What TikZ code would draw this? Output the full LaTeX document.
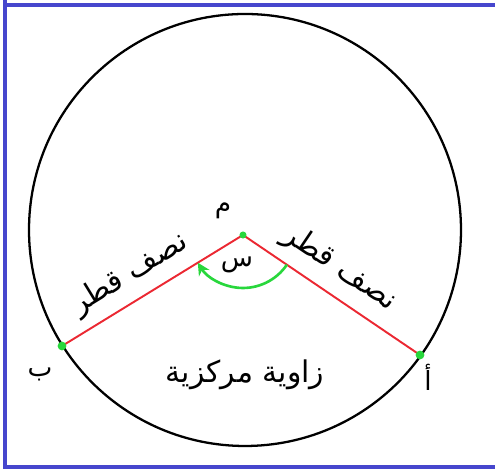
\documentclass[tikz,border=0pt]{standalone}
\usepackage{fontspec}
\usepackage{tikz}
\usetikzlibrary{arrows.meta,positioning,calc}
\TeXXeTstate=1
\newfontfamily\arabicfont[Script=Arabic]{DejaVu Sans}
\definecolor{frame_color}{RGB}{70,70,205}
\definecolor{radius_color}{RGB}{235,40,50}
\definecolor{angle_color}{RGB}{40,215,60}

\begin{document}
\begin{tikzpicture}[
                x=0.02cm, y=0.02cm,
                every node/.style={inner sep=0pt},
                label_ar/.style={font=\arabicfont\fontsize{17}{20}\selectfont, align=center},
                letter_ar/.style={font=\arabicfont\fontsize{15}{18}\selectfont},
                radius_line/.style={draw=radius_color, line width=1.1pt},
                dot/.style={circle, fill=angle_color, inner sep=0pt, minimum size=5pt},
                angle_arc/.style={angle_color, line width=1.5pt, -{Stealth[length=7pt, width=7pt]}}
            ]
                % Page size and frame
                \useasboundingbox (0,0) rectangle (495,472);
                \draw[frame_color, line width=2.2pt] (5,510) -- (5,5) -- (510,5);
                \draw[frame_color, line width=2.2pt] (5,467) -- (510,467);
                
                % Circle
                \draw[black, line width=1.3pt] (245,242) circle (216);
                
                % Centre and points on the circle
                \coordinate (m) at (243,237);
                \coordinate (b) at (62,126);
                \coordinate (a) at (420,117);
                
                % Radii
                \draw[radius_line] (m) -- (b);
                \draw[radius_line] (m) -- (a);
                
                % Central angle
                \draw[angle_arc] ($(m)+(-34.1:53)$) arc (-34.1:-148.5:53);
                
                % Dots
                \node[dot, minimum size=4pt] (m_dot) at (m) {};
                \node[dot] (b_dot) at (b) {};
                \node[dot] (a_dot) at (a) {};
                
                % Labels
                \node[letter_ar] (m_lbl) at (223,261) {\beginR م\endR};
                \node[letter_ar] (s_lbl) at (237,207) {\beginR س\endR};
                \node[letter_ar] (b_lbl) at (40,98) {\beginR ب\endR};
                \node[letter_ar] (a_lbl) at (428,95) {\beginR أ\endR};
                \node[label_ar, rotate=31.5] (r_left) at (130,198) {\beginR نصف قطر\endR};
                \node[label_ar, rotate=-34] (r_right) at (340,204) {\beginR نصف قطر\endR};
                \node[label_ar] (angle_lbl) at (245,97) {\beginR زاوية مركزية\endR};
            \end{tikzpicture}
\end{document}
